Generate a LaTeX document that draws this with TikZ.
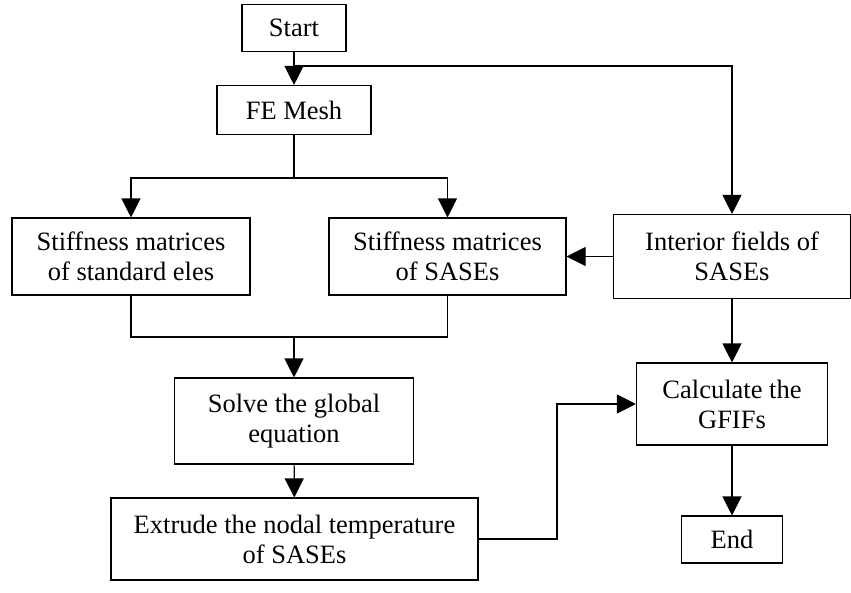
\documentclass[tikz,border=0pt]{standalone}
\usepackage{fontspec}
\setmainfont{Liberation Serif}
\usepackage{xcolor}
\usetikzlibrary{arrows.meta,positioning,calc}
\definecolor{ink}{HTML}{000000}
\tikzset{
  every picture/.style={line width=1.1pt, draw=ink, text=ink, font=\fontsize{26.5}{30}\selectfont},
  box/.style={draw=ink, fill=white, rectangle, align=center, inner sep=0pt},
  flow/.style={-{Triangle[length=19pt, width=19pt]}, draw=ink},
  link/.style={draw=ink},
}

\begin{document}
\begin{tikzpicture}[x=1pt, y=-1pt]
\useasboundingbox (0,0) rectangle (851,592);
\node[box, minimum width=104pt, minimum height=47pt] (start) at (294,28) {Start};
\node[box, minimum width=154pt, minimum height=49pt] (mesh) at (294,110) {FE Mesh};
\node[box, minimum width=238pt, minimum height=77pt] (stdk) at (131,256.5) {Stiffness matrices\\of standard eles};
\node[box, minimum width=237pt, minimum height=77pt] (sasek) at (447.5,256.5) {Stiffness matrices\\of SASEs};
\node[box, minimum width=237pt, minimum height=84pt] (interior) at (732,256.5) {Interior fields of\\SASEs};
\node[box, minimum width=239pt, minimum height=86pt] (solve) at (294,421) {Solve the global\\equation};
\node[box, minimum width=367pt, minimum height=82pt] (extrude) at (294.5,539) {Extrude the nodal temperature\\of SASEs};
\node[box, minimum width=191pt, minimum height=82pt] (gfif) at (732,404) {Calculate the\\GFIFs};
\node[box, minimum width=101pt, minimum height=47pt] (finish) at (732,539.5) {End};
% junction points
\coordinate (split) at (294,66);
\coordinate (fork) at (294,178);
\coordinate (merge) at (294,337);
\coordinate (kink) at (557,404);
\draw[flow] (start) -- (mesh);
\draw[flow] (split) -| (interior.north);
\draw[link] (mesh) -- (fork);
\draw[flow] (fork) -| (stdk.north);
\draw[flow] (fork) -| (sasek.north);
\draw[link] (stdk.south) |- (merge);
\draw[link] (sasek.south) |- (merge);
\draw[flow] (merge) -- (solve);
\draw[flow] (interior.west) -- (sasek.east);
\draw[flow] (solve) -- (extrude);
\draw[flow] (extrude.east) -| (kink) -- (gfif.west);
\draw[flow] (interior) -- (gfif);
\draw[flow] (gfif) -- (finish);
\end{tikzpicture}
\end{document}
